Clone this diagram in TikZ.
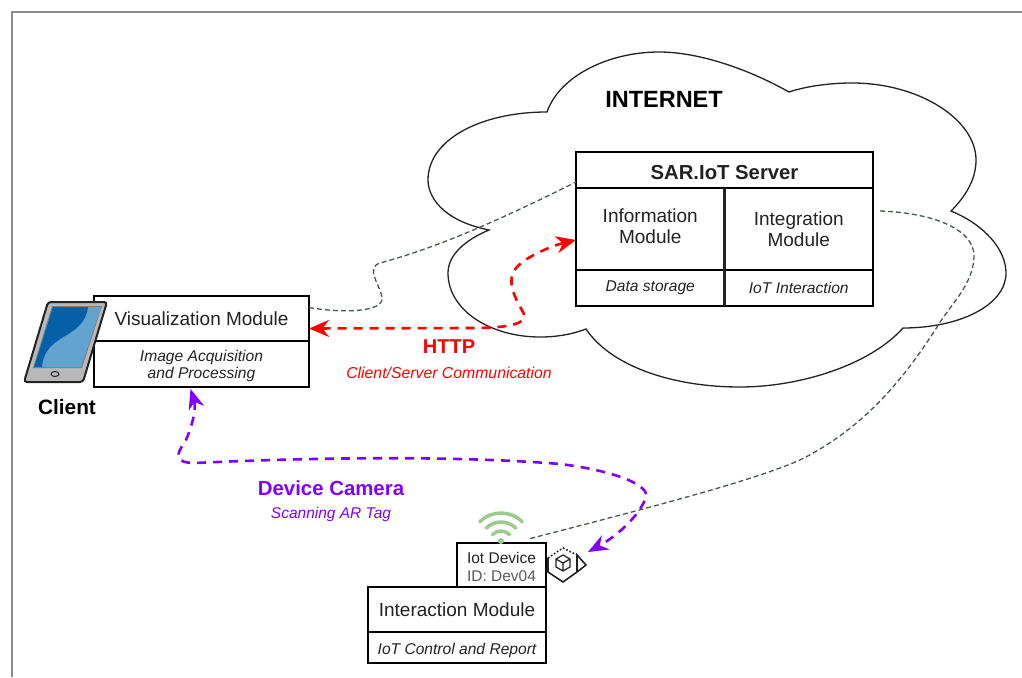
\documentclass[tikz,border=0pt]{standalone}
\usepackage{fontspec}
\setmainfont{Liberation Sans}
\usetikzlibrary{positioning, arrows.meta}

\definecolor{inkgrey}{HTML}{222222}
\definecolor{linkgrey}{HTML}{4A5A4A}
\definecolor{campurple}{HTML}{7F00FF}
\definecolor{wifigreen}{HTML}{9CCC8C}
\definecolor{screenlight}{HTML}{62A3CF}
\definecolor{screendark}{HTML}{0560A8}
\tikzset{
    cell/.style={rectangle, draw, line width=1.2pt, outer sep=0pt, inner sep=0pt, text centered, align=center, text=inkgrey},
    title/.style={font=\fontsize{19}{20.6}\selectfont},
    sub/.style={font=\fontsize{15.6}{17.7}\selectfont\itshape},
    link/.style={draw=linkgrey, line width=1.3pt, dash pattern=on 5pt off 3pt},
    httplink/.style={draw=red, line width=2.6pt, dash pattern=on 9pt off 7pt, {Stealth[length=20pt,width=17pt]}-{Stealth[length=20pt,width=17pt]}},
    camlink/.style={draw=campurple, line width=2.6pt, dash pattern=on 9pt off 7pt, {Stealth[length=20pt,width=16pt]}-{Stealth[length=20pt,width=16pt]}}
}

\begin{document}
\begin{tikzpicture}[x=1pt, y=-1pt]
    \useasboundingbox (0,0) rectangle (1022,677);
    \draw[line width=1.2pt, draw=black!45] (12,677) -- (12,12) -- (1022,12);

    % Cloud
    \draw[line width=1.3pt, draw=inkgrey] (489,230) .. controls (440,220) and (428,195) .. (428,180)
        .. controls (428,140) and (480,112) .. (547,112)
        .. controls (560,75) and (610,52) .. (659,52)
        .. controls (700,52) and (750,70) .. (789,92)
        .. controls (810,85) and (835,83) .. (852,83)
        .. controls (920,83) and (976,120) .. (976,160)
        .. controls (976,180) and (965,197) .. (951,211)
        .. controls (985,225) and (1006,250) .. (1006,273)
        .. controls (1006,305) and (960,328) .. (903,328)
        .. controls (870,365) and (800,387) .. (740,387)
        .. controls (670,387) and (610,365) .. (586,329)
        .. controls (570,335) and (555,337) .. (540,337)
        .. controls (490,337) and (448,310) .. (448,273)
        .. controls (448,255) and (465,240) .. (489,230) -- cycle;
    \node (internet) at (664,99) {\fontsize{23.5}{26}\selectfont\bfseries INTERNET};

    % Server
    \node (serverhead) [cell, text height=18.5pt, minimum width=297pt, minimum height=36pt] at (724.5,170) {\fontsize{20.3}{22}\selectfont\bfseries SAR.IoT Server};
    \node (infohead) [cell, title, text depth=6pt, below=0pt of serverhead.south west, anchor=north west, minimum width=148.5pt, minimum height=82pt] {Information\\Module};
    \node (integhead) [cell, title, below=0pt of serverhead.south east, anchor=north east, minimum width=148.5pt, minimum height=82pt] {Integration\\Module};
    \node (infosub) [cell, sub, below=0pt of infohead, minimum width=148.5pt, minimum height=36pt] {Data storage};
    \node (integsub) [cell, sub, below=0pt of integhead, minimum width=148.5pt, minimum height=36pt] {IoT Interaction};
    \draw[line width=2.4pt, draw=inkgrey] (infohead.north east) -- (infosub.south east);

    % Client
    \node (vishead) [cell, title, minimum width=215pt, minimum height=45pt] at (201.5,318.5) {Visualization Module};
    \node (vissub) [cell, sub, text height=33pt, below=0pt of vishead, minimum width=215pt, minimum height=46pt] {Image Acquisition\\and Processing};
    \node (client) at (67,407) {\fontsize{20.8}{23}\selectfont\bfseries Client};

    % Tablet
    \draw[line width=2pt, draw=inkgrey, fill=black!28, rounded corners=3pt] (48,302) -- (107,302) -- (83,382) -- (24,382) -- cycle;
    \fill[fill=black!50] (52,306) -- (102,306) -- (82,368) -- (33,368) -- cycle;
    \fill[fill=screenlight] (53,307) -- (101,307) -- (81,367) -- (34,367) -- cycle;
    \fill[fill=screendark] (53,307) -- (88,307) .. controls (84,340) and (45,332) .. (42,367) -- (34,367) -- cycle;
    \draw[line width=1pt, draw=inkgrey] (55,374) ellipse [x radius=4pt, y radius=2.5pt];

    % Device
    \node (iotdev) [cell, font=\fontsize{15.5}{18}\selectfont, text height=33.3pt, minimum width=89pt, minimum height=44pt] at (501.5,565) {Iot Device\\{\color{black!65}ID: Dev04}};
    \node (interhead) [cell, title, below=0pt of iotdev.south east, anchor=north east, minimum width=178pt, minimum height=45pt] {Interaction Module};
    \node (intersub) [cell, sub, text height=17.5pt, below=0pt of interhead, minimum width=178pt, minimum height=31pt] {IoT Control and Report};

    % Wifi signal
    \foreach \r in {12,21,30} {
        \draw[draw=wifigreen, line width=3.5pt, line cap=round] (501,543) ++(135:\r pt) arc[start angle=135, end angle=45, radius=\r pt];
    }
    \fill[fill=wifigreen] (501,541) circle (3pt);

    % AR tag
    \coordinate (artag) at (563,564);
    \draw[line width=1.6pt, draw=inkgrey] (548,558) -- (548,572) -- (563,582) -- (577,572) -- (577,555) -- (586,565) -- (577,572);
    \draw[line width=1.6pt, draw=inkgrey, dotted] (548,558) -- (563,548) -- (577,555);
    \draw[line width=1.2pt, draw=inkgrey] (563,555) -- (570,559) -- (570,567) -- (563,571) -- (556,567) -- (556,559) -- cycle (556,559) -- (563,563) -- (570,559) (563,563) -- (563,571);

    % Connectors
    \draw[link] ([yshift=11pt]vishead.east) .. controls (340,313) and (385,313) .. (382,297)
        .. controls (380,285) and (365,268) .. (380,263) .. controls (420,252) and (470,235) .. ([yshift=-12pt]serverhead.west);
    \draw[link] ([xshift=7pt,yshift=18pt]integhead.east) .. controls (935,213) and (975,230) .. (974,257)
        .. controls (973,285) and (950,305) .. (937,327) .. controls (900,385) and (860,430) .. (800,460)
        .. controls (750,482) and (640,510) .. ([xshift=27pt,yshift=4pt]iotdev.north);
    \draw[httplink] ([yshift=-10pt]vishead.east) -- (470,328) .. controls (505,328) and (530,325) .. (523,312)
        .. controls (515,298) and (505,280) .. (517,267) .. controls (528,255) and (555,245) .. ([yshift=-11pt]infohead.west);
    \draw[camlink] ([xshift=-11pt,yshift=-2pt]vissub.south) .. controls (197,410) and (190,432) .. (185,442)
        .. controls (175,455) and (175,463) .. (195,463) .. controls (300,458) and (450,455) .. (560,464)
        .. controls (610,470) and (655,485) .. (645,500) .. controls (635,522) and (610,540) .. ([shift={(25pt,12pt)}]artag);

    % Labels
    \node (http) at (449,347) [text=red] {\fontsize{20}{22}\selectfont\bfseries HTTP};
    \node (httpsub) at (449,373) [text=red] {\fontsize{15.8}{18}\selectfont\itshape Client/Server Communication};
    \node (camera) at (331,488) [text=campurple] {\fontsize{20.4}{22}\selectfont\bfseries Device Camera};
    \node (camerasub) at (331,514) [text=campurple] {\fontsize{15.5}{18}\selectfont\itshape Scanning AR Tag};
\end{tikzpicture}
\end{document}
